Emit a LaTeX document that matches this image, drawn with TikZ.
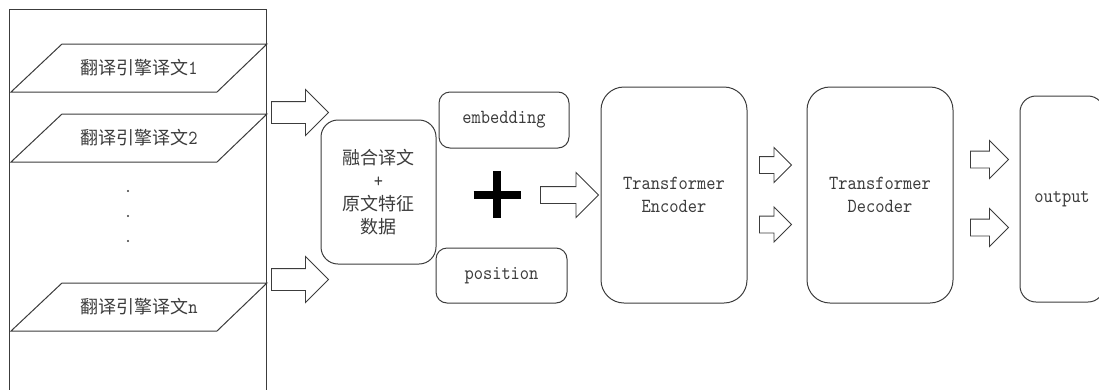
\documentclass[tikz,border=0pt]{standalone}
\usepackage{fontspec}
\setmonofont{lmmono10-regular.otf}[FakeStretch=0.88]
\newfontfamily\cjk{Noto Sans CJK SC}
\usetikzlibrary{shapes.arrows}
\definecolor{linegray}{RGB}{60,60,60}

\tikzset{
  every node/.style={font=\fontsize{20}{23}\selectfont\ttfamily, text=linegray},
  box/.style={draw=linegray, line width=1pt, align=center, inner sep=0pt},
  blockarrow/.style={single arrow, draw=linegray, line width=0.9pt,
    single arrow head indent=0pt, inner sep=0pt, anchor=tail}
}

\begin{document}
\begin{tikzpicture}[x=1pt, y=-1pt]
    \useasboundingbox (0,0) rectangle (1099,389);

    % input container (open at the bottom)
    \draw[linegray, line width=1pt] (9,395) -- (9,9) -- (266,9) -- (266,395);

    % engine outputs (parallelograms)
    \foreach \top/\idx/\nm in {44/1/in1, 114/2/in2, 283/n/inn}{
        \draw[linegray, line width=1pt] (62,\top) -- (267,\top) -- (217,\top+48) -- (11,\top+48) -- cycle;
        \node (\nm) at (139,\top+24) {{\cjk\fontsize{18}{23}\selectfont 翻译引擎译文}\idx};
    }

    % vertical dots
    \fill[linegray] (128,191) circle (1.1) (128,216) circle (1.1) (128,241) circle (1.1);

    % arrows into the fusion box
    \node[blockarrow, minimum height=57, text height=10.5pt, text depth=10.5pt, single arrow head extend=12] (a1) at (271,112.5) {};
    \node[blockarrow, minimum height=57, text height=10.5pt, text depth=10.5pt, single arrow head extend=12] (a2) at (271,279.5) {};

    % fused data
    \node[box, rounded corners=17, minimum width=115, minimum height=144] (fuse) at (378.5,192)
        {{\cjk\fontsize{18}{23}\selectfont 融合译文}\\+\\{\cjk\fontsize{18}{23}\selectfont 原文特征}\\{\cjk\fontsize{18}{23}\selectfont 数据}};

    % embedding + position
    \node[box, rounded corners=11, minimum width=130, minimum height=56] (emb) at (504,120) {embedding};
    \node[box, rounded corners=11, minimum width=131, minimum height=55] (pos) at (501.5,275.5) {position};
    \draw[black, line width=7.5pt] (473.5,195) -- (520.5,195) (497,171) -- (497,218);

    \node[blockarrow, minimum height=58, text height=8pt, text depth=8pt, single arrow head extend=14] (a3) at (540,195) {};

    % transformer
    \node[box, rounded corners=23, minimum width=146, minimum height=216] (enc) at (674,195) {Transformer\\Encoder};
    \node[blockarrow, minimum height=32, text height=8pt, text depth=8pt, single arrow head extend=9] (a4) at (759,165) {};
    \node[blockarrow, minimum height=32, text height=8pt, text depth=8pt, single arrow head extend=9] (a5) at (759,224.5) {};
    \node[box, rounded corners=23, minimum width=146, minimum height=216] (dec) at (880,195) {Transformer\\Decoder};
    \node[blockarrow, minimum height=38, text height=8pt, text depth=8pt, single arrow head extend=10.5] (a6) at (970,159.5) {};
    \node[blockarrow, minimum height=38, text height=8pt, text depth=8pt, single arrow head extend=10.5] (a7) at (970,227.5) {};

    % output
    \node[box, rounded corners=16, minimum width=84, minimum height=206] (out) at (1062,199) {output};

\end{tikzpicture}
\end{document}
